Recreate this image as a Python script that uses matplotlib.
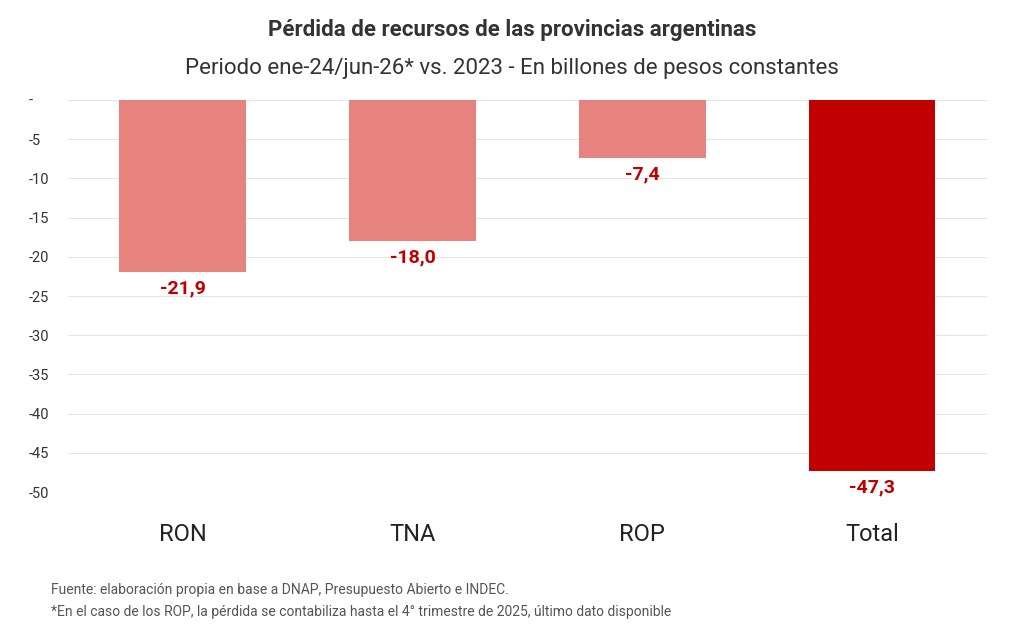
import matplotlib.pyplot as plt

plt.rcParams['font.family'] = ['Roboto', 'DejaVu Sans']

categories = ["RON", "TNA", "ROP", "Total"]
values = [-21.9, -18.0, -7.4, -47.3]
bar_colors = ["#E6837E", "#E6837E", "#E6837E", "#C00000"]
yticks = [0, -5, -10, -15, -20, -25, -30, -35, -40, -45, -50]
ytick_labels = ["-"] + [str(t) for t in yticks[1:]]

fig = plt.figure(figsize=(10.24, 6.4), dpi=100)
ax = fig.add_axes([0.066, 0.231, 0.898, 0.613])

x = range(len(categories))
ax.bar(x, values, width=0.55, color=bar_colors, zorder=2)
for xi, v in zip(x, values):
    ax.text(xi, v - 1.0, f"{v:.1f}".replace(".", ","), ha="center", va="top",
            color="#C00000", fontsize=14, fontweight="bold")

ax.set_xlim(-0.5, 3.5)
ax.set_ylim(-50, 0)
ax.set_yticks(yticks)
ax.set_yticklabels(ytick_labels, fontsize=10.5, color="#333333")
ax.set_xticks(list(x))
ax.set_xticklabels(categories, fontsize=17, color="#222222")
ax.tick_params(axis="x", length=0, pad=22)
ax.tick_params(axis="y", length=0, pad=28)
for lbl in ax.get_yticklabels():
    lbl.set_horizontalalignment("left")
ax.grid(axis="y", color="#E6E6E6", linewidth=0.8, zorder=0)
for s in ax.spines.values():
    s.set_visible(False)

fig.text(0.5, 0.944, "Pérdida de recursos de las provincias argentinas", ha="center",
         fontsize=16, fontweight="bold", color="#333333")
fig.text(0.5, 0.885, "Periodo ene-24/jun-26* vs. 2023 - En billones de pesos constantes",
         ha="center", fontsize=16, color="#333333")
fig.text(0.05, 0.072, "Fuente: elaboración propia en base a DNAP, Presupuesto Abierto e INDEC.",
         fontsize=10, color="#555555")
fig.text(0.05, 0.038, "*En el caso de los ROP, la pérdida se contabiliza hasta el 4° trimestre de 2025, último dato disponible",
         fontsize=10, color="#555555")

fig.savefig("out.png", dpi=100)
